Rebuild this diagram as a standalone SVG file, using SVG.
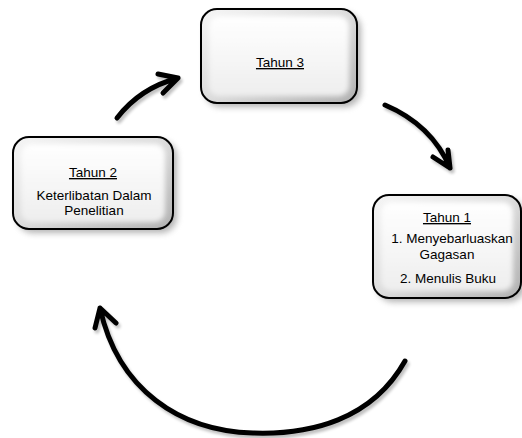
<svg xmlns="http://www.w3.org/2000/svg" width="522" height="438" viewBox="0 0 522 438">
<style>
.box{fill:none;stroke:#000;stroke-width:2}
.t{font-family:"Liberation Sans",Arial,sans-serif;font-size:13.5px;fill:#000;text-anchor:middle}
.u{text-decoration:underline}
.arr{fill:none;stroke:#000;stroke-width:5;stroke-linecap:round;stroke-linejoin:round}
</style>
<defs>
<linearGradient id="edge" x1="0" y1="0" x2="1" y2="1">
<stop offset="0" stop-color="#f6f6f6"/>
<stop offset="0.5" stop-color="#dcdcdc"/>
<stop offset="1" stop-color="#b0b0b0"/>
</linearGradient>
<linearGradient id="face" x1="0" y1="0" x2="0" y2="1">
<stop offset="0" stop-color="#ffffff"/>
<stop offset="1" stop-color="#eeeeee"/>
</linearGradient>
<filter id="blur" x="-20%" y="-20%" width="140%" height="140%"><feGaussianBlur stdDeviation="2.5"/></filter>
<filter id="sblur" x="-20%" y="-20%" width="140%" height="140%"><feGaussianBlur stdDeviation="3"/></filter>
<filter id="ablur" x="-20%" y="-20%" width="140%" height="140%"><feGaussianBlur stdDeviation="1.5"/></filter>
</defs>
<g id="connectors">
<g opacity="0.25" filter="url(#ablur)" transform="translate(2,3)">
<path class="arr" d="M117,118 Q140,88 178,78 M158,74 L178,78 L163,93"/>
<path class="arr" d="M385,105 Q432,125 450,168 M448,150 L450,168 L433,157"/>
<path class="arr" d="M405,361 C372,420 310,435 253,433 C180,431 118,390 100,308 M95,328 L100,308 L116,323"/>
</g>
<path class="arr" d="M117,118 Q140,88 178,78 M158,74 L178,78 L163,93"/>
<path class="arr" d="M385,105 Q432,125 450,168 M448,150 L450,168 L433,157"/>
<path class="arr" d="M405,361 C372,420 310,435 253,433 C180,431 118,390 100,308 M95,328 L100,308 L116,323"/>
</g>
<g id="tahun3">
<rect x="205" y="13" width="156" height="94" rx="16" fill="#777" filter="url(#sblur)" opacity="0.55"/>
<rect x="201" y="9" width="156" height="94" rx="16" fill="url(#edge)"/>
<rect x="209" y="16" width="140" height="80" rx="10" fill="url(#face)" filter="url(#blur)"/>
<rect class="box" x="201" y="9" width="156" height="94" rx="16"/>
<text class="t u" x="280" y="67">Tahun 3</text>
</g>
<g id="tahun2">
<rect x="17" y="141" width="160" height="92" rx="16" fill="#777" filter="url(#sblur)" opacity="0.55"/>
<rect x="13" y="137" width="160" height="92" rx="16" fill="url(#edge)"/>
<rect x="21" y="144" width="144" height="78" rx="10" fill="url(#face)" filter="url(#blur)"/>
<rect class="box" x="13" y="137" width="160" height="92" rx="16"/>
<text class="t u" x="93" y="177">Tahun 2</text>
<text class="t" x="94" y="200">Keterlibatan Dalam</text>
<text class="t" x="94" y="215">Penelitian</text>
</g>
<g id="tahun1">
<rect x="377" y="199" width="148" height="103" rx="16" fill="#777" filter="url(#sblur)" opacity="0.55"/>
<rect x="373" y="195" width="148" height="103" rx="16" fill="url(#edge)"/>
<rect x="381" y="202" width="132" height="89" rx="10" fill="url(#face)" filter="url(#blur)"/>
<rect class="box" x="373" y="195" width="148" height="103" rx="16"/>
<text class="t u" x="447" y="222">Tahun 1</text>
<text class="t" x="452" y="243">1. Menyebarluaskan</text>
<text class="t" x="447" y="259">Gagasan</text>
<text class="t" x="448" y="283">2.  Menulis Buku</text>
</g>
</svg>
